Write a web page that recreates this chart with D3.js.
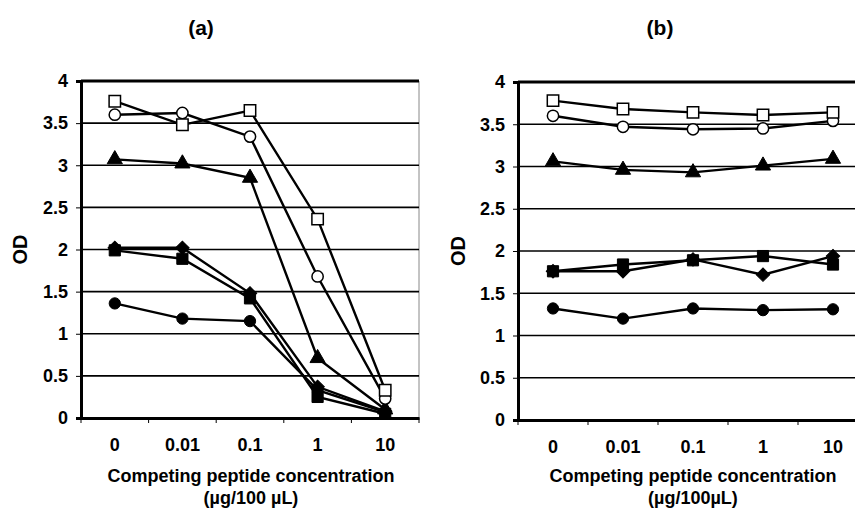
<!DOCTYPE html>
<html>
<head>
<meta charset="utf-8">
<script src="https://cdn.jsdelivr.net/npm/d3@7"></script>
<style>
  body { margin: 0; background: #fff; }
  svg { font-family: "Liberation Sans", Arial, sans-serif; font-weight: bold; }
</style>
</head>
<body>
<svg width="855" height="513"></svg>
<script>
const concentrations = ['0', '0.01', '0.1', '1', '10'];
const yTicks = [0, 0.5, 1, 1.5, 2, 2.5, 3, 3.5, 4];

// panel (a)
const aOpenSquare = [3.76, 3.48, 3.65, 2.36, 0.33];
const aOpenCircle = [3.60, 3.62, 3.34, 1.68, 0.23];
const aTriangle   = [3.07, 3.02, 2.85, 0.71, 0.10];
const aDiamond    = [2.02, 2.02, 1.48, 0.37, 0.08];
const aSquare     = [1.99, 1.89, 1.42, 0.25, 0.05];
const aCircle     = [1.36, 1.18, 1.15, 0.33, 0.07];

// panel (b)
const bOpenSquare = [3.78, 3.68, 3.64, 3.61, 3.64];
const bOpenCircle = [3.60, 3.47, 3.44, 3.45, 3.54];
const bTriangle   = [3.06, 2.96, 2.93, 3.01, 3.09];
const bDiamond    = [1.76, 1.76, 1.90, 1.72, 1.94];
const bSquare     = [1.76, 1.84, 1.89, 1.94, 1.84];
const bCircle     = [1.32, 1.20, 1.32, 1.30, 1.31];

const svg = d3.select('svg');

function drawPanel(opts) {
  const { left, right, top, bottom, label, unitText, series } = opts;

  const x = d3.scaleBand().domain(concentrations).range([left, right]);
  const y = d3.scaleLinear().domain([0, 4]).range([bottom, top]);

  const g = svg.append('g');

  // right border (thin grey)
  g.append('line')
      .attr('x1', right).attr('x2', right)
      .attr('y1', top).attr('y2', bottom)
      .attr('stroke', '#888').attr('stroke-width', 1);

  // horizontal gridlines
  g.selectAll('.grid')
    .data(yTicks.filter(t => t > 0))
    .enter()
    .append('line')
      .attr('x1', left).attr('x2', right)
      .attr('y1', d => y(d)).attr('y2', d => y(d))
      .attr('stroke', '#000')
      .attr('stroke-width', d => d === 4 ? 3 : 1.6);

  // y axis
  const yAxis = d3.axisLeft(y).tickValues(yTicks).tickSize(5).tickPadding(8)
      .tickFormat(d3.format('~g'));
  const ya = g.append('g')
      .attr('transform', `translate(${left}, 0)`)
      .call(yAxis);
  ya.select('.domain').attr('stroke-width', 3);
  ya.selectAll('text')
      .style('font-size', '18px').style('font-weight', 'bold')
      .style('font-family', '"Liberation Sans", Arial, sans-serif');

  // x axis: ticks at category boundaries
  const xAxis = d3.axisBottom(x).tickSize(0).tickPadding(20);
  const xa = g.append('g')
      .attr('transform', `translate(0, ${bottom})`)
      .call(xAxis);
  xa.select('.domain').attr('stroke-width', 3);
  xa.selectAll('text')
      .style('font-size', '18px').style('font-weight', 'bold')
      .style('font-family', '"Liberation Sans", Arial, sans-serif');

  g.selectAll('.xtick')
    .data(d3.range(concentrations.length + 1))
    .enter()
    .append('line')
      .attr('x1', i => left + i * x.step())
      .attr('x2', i => left + i * x.step())
      .attr('y1', bottom).attr('y2', bottom + 5)
      .attr('stroke', '#000').attr('stroke-width', 1);

  // lines + markers
  const line = d3.line()
      .x((d, i) => x(concentrations[i]) + x.bandwidth() / 2)
      .y(d => y(d));

  series.forEach(s => {
    g.append('path')
        .datum(s.values)
        .attr('d', line)
        .attr('fill', 'none')
        .attr('stroke', '#000')
        .attr('stroke-width', 2.4);
  });

  series.forEach(s => {
    g.selectAll(null)
      .data(s.values)
      .enter()
      .append('path')
        .attr('transform', (d, i) =>
          `translate(${x(concentrations[i]) + x.bandwidth() / 2}, ${y(d)}) rotate(${s.rotate})`)
        .attr('d', d3.symbol().type(s.symbol).size(s.size))
        .attr('fill', s.open ? '#fff' : '#000')
        .attr('stroke', '#000')
        .attr('stroke-width', s.open ? 1.5 : 1);
  });

  // panel label
  svg.append('text')
      .attr('x', opts.labelX)
      .attr('y', 28)
      .attr('dy', '0.35em')
      .style('text-anchor', 'middle')
      .style('font-size', '21px')
      .text(label);

  // y title
  svg.append('text')
      .attr('transform', 'rotate(-90)')
      .attr('x', -(top + bottom) / 2)
      .attr('y', opts.odX)
      .attr('dy', '0.35em')
      .style('text-anchor', 'middle')
      .style('font-size', '20px')
      .text('OD');

  // x title
  const cx = opts.titleX;
  svg.append('text')
      .attr('x', cx).attr('y', 476).attr('dy', '0.35em')
      .style('text-anchor', 'middle')
      .style('font-size', '18px')
      .text('Competing peptide concentration');
  svg.append('text')
      .attr('x', cx).attr('y', 498).attr('dy', '0.35em')
      .style('text-anchor', 'middle')
      .style('font-size', '18px')
      .text(unitText);
}

const sym = (values, symbol, size, open, rotate = 0) => ({ values, symbol, size, open, rotate });

drawPanel({
  left: 81, right: 419, top: 81, bottom: 418,
  label: '(a)', labelX: 201, odX: 20, titleX: 251,
  unitText: '(µg/100 µL)',
  series: [
    sym(aCircle, d3.symbolCircle, 100, false),
    sym(aSquare, d3.symbolSquare, 125, false),
    sym(aDiamond, d3.symbolSquare, 90, false, 45),
    sym(aTriangle, d3.symbolTriangle, 100, false),
    sym(aOpenCircle, d3.symbolCircle, 100, true),
    sym(aOpenSquare, d3.symbolSquare, 130, true)
  ]
});

drawPanel({
  left: 518, right: 868, top: 82, bottom: 420,
  label: '(b)', labelX: 660, odX: 458, titleX: 693,
  unitText: '(µg/100µL)',
  series: [
    sym(bCircle, d3.symbolCircle, 100, false),
    sym(bSquare, d3.symbolSquare, 125, false),
    sym(bDiamond, d3.symbolSquare, 90, false, 45),
    sym(bTriangle, d3.symbolTriangle, 100, false),
    sym(bOpenCircle, d3.symbolCircle, 100, true),
    sym(bOpenSquare, d3.symbolSquare, 130, true)
  ]
});
</script>
</body>
</html>
